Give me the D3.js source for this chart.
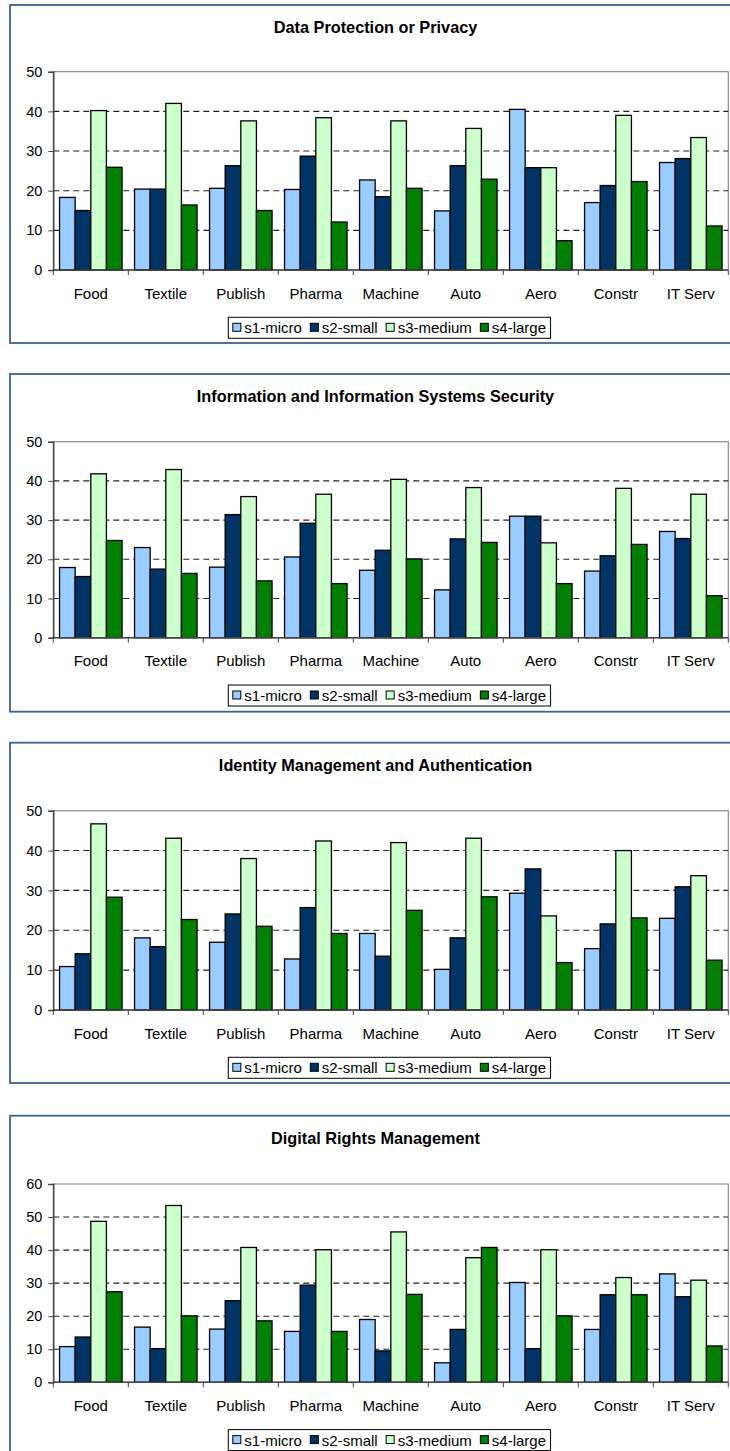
<!DOCTYPE html>
<html>
<head>
<meta charset="utf-8">
<script src="https://cdn.jsdelivr.net/npm/d3@7"></script>
<style>
  html, body { margin: 0; padding: 0; background: #fff; }
  svg { display: block; }
  text { font-family: "Liberation Sans", Arial, sans-serif; fill: #000; }
</style>
</head>
<body>
<svg id="chart" width="730" height="1451"></svg>
<script>
// Sectors shown on every panel
const categories = ["Food", "Textile", "Publish", "Pharma", "Machine", "Auto", "Aero", "Constr", "IT Serv"];
// Company-size series
const seriesNames = ["s1-micro", "s2-small", "s3-medium", "s4-large"];

// Panel titles
const titles = [
  "Data Protection or Privacy",
  "Information and Information Systems Security",
  "Identity Management and Authentication",
  "Digital Rights Management"
];

// Y-axis tick labels per panel
const yTicksPrivacy  = [0, 10, 20, 30, 40, 50];
const yTicksSecurity = [0, 10, 20, 30, 40, 50];
const yTicksIdentity = [0, 10, 20, 30, 40, 50];
const yTicksDrm      = [0, 10, 20, 30, 40, 50, 60];

// Data Protection or Privacy
const privacyMicro  = [18.3, 20.4, 20.6, 20.3, 22.7, 14.9, 40.5, 17.0, 27.1];
const privacySmall  = [15.0, 20.4, 26.3, 28.7, 18.5, 26.3, 25.8, 21.3, 28.1];
const privacyMedium = [40.2, 42.0, 37.6, 38.4, 37.6, 35.7, 25.8, 39.0, 33.4];
const privacyLarge  = [25.9, 16.4, 15.0, 12.1, 20.6, 22.9,  7.4, 22.3, 11.1];

// Information and Information Systems Security
const securityMicro  = [17.9, 23.0, 18.0, 20.6, 17.2, 12.2, 31.0, 17.0, 27.1];
const securitySmall  = [15.6, 17.5, 31.4, 29.2, 22.3, 25.2, 31.0, 20.9, 25.3];
const securityMedium = [41.8, 42.9, 36.0, 36.6, 40.4, 38.3, 24.2, 38.1, 36.6];
const securityLarge  = [24.8, 16.4, 14.5, 13.8, 20.1, 24.3, 13.8, 23.8, 10.7];

// Identity Management and Authentication
const identityMicro  = [10.9, 18.1, 17.0, 12.8, 19.2, 10.2, 29.3, 15.4, 23.0];
const identitySmall  = [14.1, 15.9, 24.1, 25.7, 13.5, 18.1, 35.4, 21.6, 30.9];
const identityMedium = [46.7, 43.1, 38.0, 42.4, 42.0, 43.1, 23.6, 40.0, 33.7];
const identityLarge  = [28.3, 22.7, 21.0, 19.2, 25.0, 28.4, 11.9, 23.1, 12.5];

// Digital Rights Management
const drmMicro  = [10.8, 16.7, 16.1, 15.4, 19.0,  5.9, 30.2, 16.0, 32.8];
const drmSmall  = [13.7, 10.2, 24.7, 29.4,  9.5, 16.0, 10.2, 26.5, 25.9];
const drmMedium = [48.7, 53.5, 40.8, 40.1, 45.5, 37.7, 40.1, 31.7, 30.9];
const drmLarge  = [27.4, 20.1, 18.6, 15.4, 26.6, 40.8, 20.1, 26.5, 11.0];

const panelValues = [
  [privacyMicro, privacySmall, privacyMedium, privacyLarge],
  [securityMicro, securitySmall, securityMedium, securityLarge],
  [identityMicro, identitySmall, identityMedium, identityLarge],
  [drmMicro, drmSmall, drmMedium, drmLarge]
];
const panelTicks = [yTicksPrivacy, yTicksSecurity, yTicksIdentity, yTicksDrm];

// Styling
const seriesColors = ["#99ccff", "#003366", "#ccffcc", "#008000"];
const frameColor = "#3a6492";

// Panel placement on the page
const layout = [
  { frameTop: 5,      plotTop: 71.7,   plotBottom: 270,    frameBottom: 343 },
  { frameTop: 374,    plotTop: 441.7,  plotBottom: 637.7,  frameBottom: 711.7 },
  { frameTop: 742.7,  plotTop: 810.7,  plotBottom: 1010,   frameBottom: 1083 },
  { frameTop: 1115.7, plotTop: 1184,   plotBottom: 1382.3, frameBottom: 1490 }
];
const frameLeft = 10, frameRight = 741;
const plotLeft = 53.3, plotRight = 728.3;

const svg = d3.select("#chart");

layout.forEach((L, p) => {
  const g = svg.append("g");
  const values = panelValues[p];
  const ticks = panelTicks[p];

  // outer frame
  g.append("rect")
    .attr("x", frameLeft).attr("y", L.frameTop)
    .attr("width", frameRight - frameLeft).attr("height", L.frameBottom - L.frameTop)
    .attr("fill", "#fff").attr("stroke", frameColor).attr("stroke-width", 1.8);

  // title
  g.append("text")
    .attr("x", (frameLeft + frameRight) / 2).attr("y", L.frameTop + 22)
    .attr("text-anchor", "middle").attr("dominant-baseline", "central")
    .attr("font-size", 16.3).attr("font-weight", "bold")
    .text(titles[p]);

  const x = d3.scaleBand().domain(categories).range([plotLeft, plotRight]).paddingInner(0).paddingOuter(0);
  const xs = d3.scaleBand().domain(seriesNames).range([0, x.bandwidth()]).paddingInner(0).paddingOuter(0.4);
  const yMax = ticks[ticks.length - 1];
  const y = d3.scaleLinear().domain([0, yMax]).range([L.plotBottom, L.plotTop]);

  // plot area border (top + right)
  g.append("rect")
    .attr("x", plotLeft).attr("y", L.plotTop)
    .attr("width", plotRight - plotLeft).attr("height", L.plotBottom - L.plotTop)
    .attr("fill", "none").attr("stroke", "#8c8c8c").attr("stroke-width", 1.2);

  // dashed gridlines
  g.append("g").selectAll("line")
    .data(ticks.filter(t => t > 0 && t < yMax))
    .join("line")
    .attr("x1", plotLeft).attr("x2", plotRight)
    .attr("y1", d => y(d)).attr("y2", d => y(d))
    .attr("stroke", "#222").attr("stroke-width", 1.1)
    .attr("stroke-dasharray", "6,4");

  // bars
  const groups = g.append("g").selectAll("g")
    .data(categories)
    .join("g")
    .attr("transform", d => `translate(${x(d)},0)`);
  groups.selectAll("rect")
    .data((c, i) => seriesNames.map((s, k) => ({ s, k, v: values[k][i] })))
    .join("rect")
    .attr("x", d => xs(d.s))
    .attr("width", xs.bandwidth())
    .attr("y", d => y(d.v))
    .attr("height", d => y(0) - y(d.v))
    .attr("fill", d => seriesColors[d.k])
    .attr("stroke", "#000").attr("stroke-width", 1.3);

  // y axis
  const yAxis = d3.axisLeft(y).tickValues(ticks).tickSize(5).tickPadding(6).tickFormat(d3.format("d"));
  const ya = g.append("g").attr("transform", `translate(${plotLeft},0)`).call(yAxis);
  ya.select(".domain").attr("stroke", "#444").attr("stroke-width", 1.4);
  ya.selectAll(".tick line").attr("stroke", "#444");
  ya.selectAll(".tick text").attr("font-size", 14.5).attr("font-family", "Liberation Sans, Arial, sans-serif").attr("fill", "#000");

  // x axis: ticks sit on category boundaries, labels centered in bands
  const boundaries = categories.map(c => x(c)).concat([plotRight]);
  g.append("line")
    .attr("x1", plotLeft).attr("x2", plotRight)
    .attr("y1", L.plotBottom).attr("y2", L.plotBottom)
    .attr("stroke", "#444").attr("stroke-width", 1.4);
  g.append("g").selectAll("line")
    .data(boundaries)
    .join("line")
    .attr("x1", d => d).attr("x2", d => d)
    .attr("y1", L.plotBottom).attr("y2", L.plotBottom + 5)
    .attr("stroke", "#444");
  g.append("g").selectAll("text")
    .data(categories)
    .join("text")
    .attr("x", d => x(d) + x.bandwidth() / 2)
    .attr("y", L.plotBottom + 23)
    .attr("text-anchor", "middle").attr("dominant-baseline", "central")
    .attr("font-size", 15)
    .text(d => d);

  // legend
  const legTop = L.plotBottom + 47.3, legH = 21, legLeft = 228.3;
  const box = g.append("rect")
    .attr("x", legLeft).attr("y", legTop).attr("height", legH)
    .attr("fill", "#fff").attr("stroke", "#000").attr("stroke-width", 1);
  let cx = legLeft + 4.5;
  seriesNames.forEach((s, k) => {
    g.append("rect")
      .attr("x", cx).attr("y", legTop + legH / 2 - 4.5)
      .attr("width", 8).attr("height", 8)
      .attr("fill", seriesColors[k]).attr("stroke", "#000").attr("stroke-width", 1);
    const t = g.append("text")
      .attr("x", cx + 11.5).attr("y", legTop + legH / 2)
      .attr("dominant-baseline", "central")
      .attr("font-size", 15)
      .text(s);
    cx = cx + 11.5 + t.node().getComputedTextLength() + 8.5;
  });
  box.attr("width", cx - 8.5 + 4.5 - legLeft);
});
</script>
</body>
</html>
